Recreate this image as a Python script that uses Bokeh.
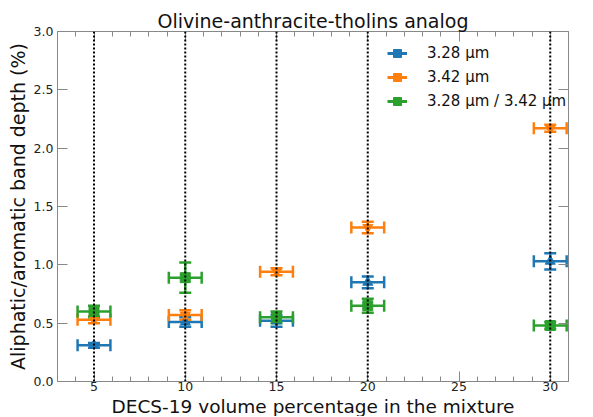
from bokeh.plotting import figure
from bokeh.models import (ColumnDataSource, Whisker, TeeHead, Span, LinearAxis,
                          FixedTicker, Legend, LegendItem, Range1d, Title,
                          NumeralTickFormatter, CustomJSTickFormatter)
from bokeh.embed import file_html
from bokeh.resources import INLINE

# ---- data ----
x_vals = [5, 10, 15, 20, 30]
x_err = [0.9, 0.9, 0.9, 0.9, 0.9]
y_328 = [0.31, 0.51, 0.52, 0.85, 1.03]
e_328 = [0.02, 0.04, 0.05, 0.05, 0.07]
y_342 = [0.53, 0.57, 0.94, 1.32, 2.17]
e_342 = [0.03, 0.04, 0.03, 0.05, 0.03]
y_ratio = [0.60, 0.89, 0.55, 0.65, 0.48]
e_ratio = [0.05, 0.13, 0.05, 0.06, 0.03]
labels = ["3.28 µm", "3.42 µm", "3.28 µm / 3.42 µm"]
x_ticks = [5, 10, 15, 20, 25, 30]
y_ticks = [0.0, 0.5, 1.0, 1.5, 2.0, 2.5, 3.0]
title_text = "Olivine-anthracite-tholins analog"
x_label = "DECS-19 volume percentage in the mixture"
y_label = "Aliphatic/aromatic band depth (%)"

FONT = "DejaVu Sans"
colors = ["#1f77b4", "#ff7f0e", "#2ca02c"]
markers = ["triangle", "inverted_triangle", "square"]

p = figure(width=585, height=416, output_backend="svg", toolbar_location=None,
           x_range=Range1d(3, 31), y_range=Range1d(0, 3),
           min_border_left=57, min_border_top=31, min_border_right=17, min_border_bottom=20)
p.grid.visible = False
p.outline_line_color = None
p.background_fill_color = "white"
p.border_fill_color = "white"

p.title.text = title_text
p.title.text_font = FONT
p.title.text_font_size = "19px"
p.title.text_font_style = "normal"
p.title.align = "center"
p.title.text_color = "#111111"
p.title.standoff = 0

axis_col = "#888888"
def style_axis(ax, show_labels):
    ax.axis_line_color = axis_col
    ax.major_tick_line_color = axis_col
    ax.minor_tick_line_color = axis_col
    ax.major_tick_in = 10
    ax.major_tick_out = 0
    ax.minor_tick_in = 5
    ax.minor_tick_out = 0
    ax.major_label_text_font = FONT
    ax.major_label_text_color = "#222222"
    ax.axis_label_text_font = FONT
    ax.axis_label_text_font_style = "normal"
    ax.axis_label_text_font_size = "19px"
    ax.axis_label_text_color = "#111111"
    ax.major_label_text_font_size = "12.5px"
    if not show_labels:
        ax.formatter = CustomJSTickFormatter(code="return ''")
        ax.major_label_standoff = 0

p.xaxis.ticker = FixedTicker(ticks=x_ticks, minor_ticks=list(range(3, 32)))
p.yaxis.ticker = FixedTicker(ticks=y_ticks, minor_ticks=[])
p.yaxis.formatter = NumeralTickFormatter(format="0.0")
p.yaxis.axis_label = y_label
style_axis(p.xaxis[0], True)
style_axis(p.yaxis[0], True)
p.xaxis.major_label_standoff = 0
p.yaxis.major_label_standoff = 4
p.yaxis.axis_label_standoff = 2

top = LinearAxis(ticker=FixedTicker(ticks=x_ticks, minor_ticks=list(range(3, 32))))
style_axis(top, False)
p.add_layout(top, "above")
right = LinearAxis(ticker=FixedTicker(ticks=y_ticks, minor_ticks=[]))
style_axis(right, False)
p.add_layout(right, "right")

# x-axis label as a title panel below the axis (tighter than axis_label)
xlab = Title(text=x_label, align="center", text_font=FONT, text_font_size="18.5px",
             text_font_style="normal", text_color="#111111", standoff=0, offset=0)
p.add_layout(xlab, "below")

series = [(y_328, e_328), (y_342, e_342), (y_ratio, e_ratio)]
items = []
nan = float("nan")
for (ys, es), c, m, lab in zip(series, colors, markers, labels):
    src = ColumnDataSource(dict(
        x=x_vals, y=ys,
        xl=[a - b for a, b in zip(x_vals, x_err)], xh=[a + b for a, b in zip(x_vals, x_err)],
        yl=[a - b for a, b in zip(ys, es)], yh=[a + b for a, b in zip(ys, es)]))
    for base, lo, hi, dim in (("y", "xl", "xh", "width"), ("x", "yl", "yh", "height")):
        p.add_layout(Whisker(source=src, base=base, lower=lo, upper=hi, dimension=dim,
                             line_color=c, line_width=2.5,
                             lower_head=TeeHead(size=12, line_color=c, line_width=2.5),
                             upper_head=TeeHead(size=12, line_color=c, line_width=2.5)))
    p.scatter("x", "y", source=src, marker=m, size=10, fill_color=c, line_color=c)
    # legend-only renderers (errorbar-like symbol), NaN so nothing is drawn in the plot
    d1 = p.line(x=[nan, nan], y=[nan, nan], line_color=c, line_width=3)
    d2 = p.scatter(x=[nan], y=[nan], marker="square", size=9, fill_color=c, line_color=c)
    items.append(LegendItem(label=lab, renderers=[d1, d2]))

for xv in x_vals:
    p.add_layout(Span(location=xv, dimension="height", line_color="black",
                      line_dash="2 2", line_width=2, level="overlay"))

leg = Legend(items=items, location=(330, 270), border_line_color=None,
             background_fill_alpha=0, label_text_font=FONT, label_text_font_size="15px",
             label_text_color="#111111", glyph_width=20, glyph_height=20,
             spacing=4, label_standoff=20, margin=0, padding=0)
p.add_layout(leg)

open("out.html", "w").write(file_html(p, INLINE))
